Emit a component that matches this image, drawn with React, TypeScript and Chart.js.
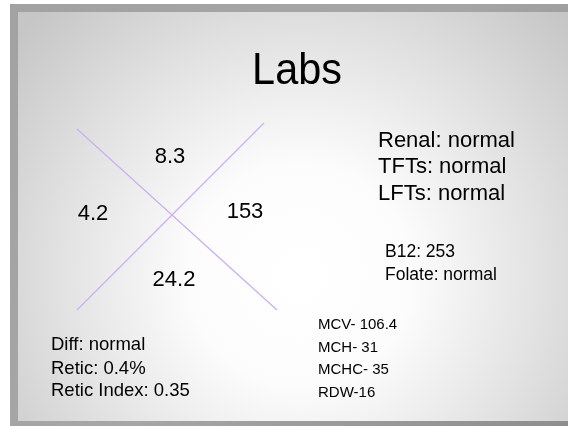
import React, { useEffect, useRef } from "react";
import { Chart, registerables } from "chart.js";

Chart.register(...registerables);

// ---- content ----
const TITLE = "Labs";
// fishbone (CBC) values: top, left, right, bottom
const CBC_VALUES = ["8.3", "4.2", "153", "24.2"];
const PANEL_LABS = ["Renal: normal", "TFTs: normal", "LFTs: normal"];
const VITAMIN_LABS = ["B12: 253", "Folate: normal"];
const SMEAR_LABS = ["Diff: normal", "Retic: 0.4%", "Retic Index: 0.35"];
const INDEX_LABS = ["MCV- 106.4", "MCH- 31", "MCHC- 35", "RDW-16"];

// cross lines in slide units (x 0..568, y 0..426)
const CROSS_A_X = [77, 277];
const CROSS_A_Y = [129, 310];
const CROSS_B_X = [264, 77];
const CROSS_B_Y = [123, 310];

// ---- layout (slide units) ----
const FONT = "'Liberation Sans', Arial, sans-serif";
type Block = { items: string[]; x: number; y: number[]; size: number; align: CanvasTextAlign; sx?: number };
const layout = (): Block[] => [
  { items: [TITLE], x: 297, y: [68], size: 45, align: "center", sx: 0.92 },
  { items: [CBC_VALUES[0]], x: 170, y: [155], size: 22, align: "center" },
  { items: [CBC_VALUES[1]], x: 93, y: [212], size: 22, align: "center" },
  { items: [CBC_VALUES[2]], x: 245, y: [210], size: 22, align: "center" },
  { items: [CBC_VALUES[3]], x: 174, y: [278], size: 22, align: "center" },
  { items: PANEL_LABS, x: 378, y: [139, 165, 192], size: 22, align: "left" },
  { items: VITAMIN_LABS, x: 385, y: [251, 274], size: 17.5, align: "left" },
  { items: SMEAR_LABS, x: 51, y: [343, 367, 389], size: 18.5, align: "left" },
  { items: INDEX_LABS, x: 318, y: [324, 347, 369, 392], size: 15, align: "left" },
];

const slidePlugin = {
  id: "slide",
  beforeDraw(chart: any) {
    const ctx = chart.ctx as CanvasRenderingContext2D;
    const xs = chart.scales.x;
    const ys = chart.scales.y;
    const px = (v: number) => xs.getPixelForValue(v);
    const py = (v: number) => ys.getPixelForValue(v);
    ctx.save();
    ctx.fillStyle = "#ffffff";
    ctx.fillRect(0, 0, chart.width, chart.height);
    // outer frame
    const fg = ctx.createLinearGradient(px(10), py(4), px(568), py(426));
    fg.addColorStop(0, "#a2a2a2");
    fg.addColorStop(0.5, "#a6a6a6");
    fg.addColorStop(1, "#8e8e8e");
    ctx.fillStyle = fg;
    ctx.fillRect(px(10), py(4), px(568) - px(10), py(426) - py(4));
    // inner panel
    const rg = ctx.createRadialGradient(px(300), py(275), 0, px(300), py(275), 370);
    rg.addColorStop(0, "#ffffff");
    rg.addColorStop(0.3, "#fcfcfc");
    rg.addColorStop(0.65, "#e2e2e2");
    rg.addColorStop(1, "#c6c6c6");
    ctx.fillStyle = rg;
    ctx.fillRect(px(18), py(12), px(568) - px(18), py(421) - py(12));
    ctx.restore();
  },
  afterDatasetsDraw(chart: any) {
    const ctx = chart.ctx as CanvasRenderingContext2D;
    const xs = chart.scales.x;
    const ys = chart.scales.y;
    ctx.save();
    ctx.fillStyle = "#000000";
    ctx.textBaseline = "alphabetic";
    for (const b of layout()) {
      ctx.font = `${b.size}px ${FONT}`;
      ctx.textAlign = b.align;
      const sx = b.sx ?? 1;
      b.items.forEach((t, i) => {
        const baseline = b.y[i] + b.size * 0.36;
        const x = xs.getPixelForValue(b.x);
        const y = ys.getPixelForValue(baseline);
        ctx.save();
        ctx.translate(x, y);
        ctx.scale(sx, 1);
        ctx.fillText(t, 0, 0);
        ctx.restore();
      });
    }
    ctx.restore();
  },
};

export default function App() {
  const ref = useRef<HTMLCanvasElement | null>(null);
  useEffect(() => {
    if (!ref.current) return;
    const toPts = (xs: number[], ys: number[]) => xs.map((x, i) => ({ x, y: ys[i] }));
    const chart = new Chart(ref.current, {
      type: "scatter",
      data: {
        datasets: [
          { data: toPts(CROSS_A_X, CROSS_A_Y), showLine: true, borderColor: "#cdb0f0", borderWidth: 1.3, pointRadius: 0, fill: false },
          { data: toPts(CROSS_B_X, CROSS_B_Y), showLine: true, borderColor: "#cdb0f0", borderWidth: 1.3, pointRadius: 0, fill: false },
        ],
      },
      options: {
        animation: false,
        responsive: false,
        maintainAspectRatio: false,
        layout: { padding: 0 },
        plugins: { legend: { display: false }, tooltip: { enabled: false }, title: { display: false } },
        scales: {
          x: { type: "linear", min: 0, max: 568, display: false },
          y: { type: "linear", min: 0, max: 426, reverse: true, display: false },
        },
      },
      plugins: [slidePlugin],
    });
    return () => chart.destroy();
  }, []);
  return (
    <div style={{ position: "fixed", left: 0, top: 0, width: 568, height: 426 }}>
      <canvas ref={ref} width={568} height={426} style={{ display: "block", width: 568, height: 426 }} />
    </div>
  );
}
